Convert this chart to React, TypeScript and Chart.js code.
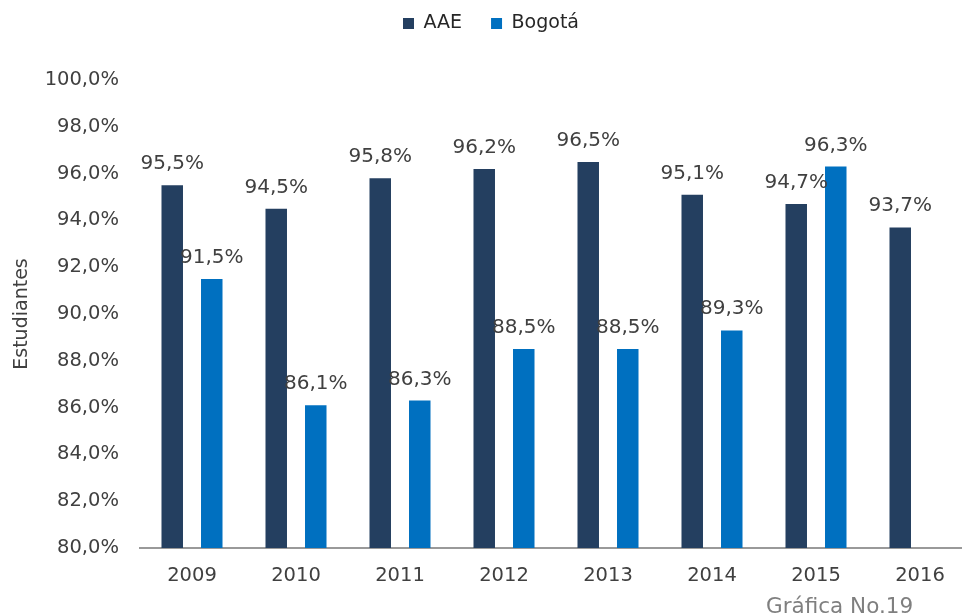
import React, { useEffect, useRef } from "react";
import { Chart, registerables } from "chart.js";

Chart.register(...registerables);

const years = ["2009", "2010", "2011", "2012", "2013", "2014", "2015", "2016"];
const aaeValues = [95.5, 94.5, 95.8, 96.2, 96.5, 95.1, 94.7, 93.7];
const bogotaValues: (number | null)[] = [91.5, 86.1, 86.3, 88.5, 88.5, 89.3, 96.3, null];
const seriesNames = ["AAE", "Bogotá"];
const yMin = 80;
const yMax = 100;
const yStep = 2;
const yTitle = "Estudiantes";
const caption = "Gráfica No.19";

const FONT = "'DejaVu Sans', Verdana, sans-serif";
const TEXT = "#404040";
const fmt = (v: number) => v.toFixed(1).replace(".", ",") + "%";

const labelsPlugin = {
  id: "valueLabels",
  afterDatasetsDraw(chart: any) {
    const ctx = chart.ctx;
    ctx.save();
    ctx.font = `20px ${FONT}`;
    ctx.fillStyle = TEXT;
    ctx.textAlign = "center";
    ctx.textBaseline = "alphabetic";
    chart.data.datasets.forEach((ds: any, i: number) => {
      const meta = chart.getDatasetMeta(i);
      meta.data.forEach((bar: any, j: number) => {
        const v = ds.data[j];
        if (v === null || v === undefined) return;
        ctx.fillText(fmt(v), bar.x, bar.y - 16);
      });
    });
    ctx.restore();
  },
};

const captionPlugin = {
  id: "caption",
  afterDraw(chart: any) {
    const ctx = chart.ctx;
    ctx.save();
    ctx.font = `21.5px ${FONT}`;
    ctx.fillStyle = "#7f7f7f";
    ctx.textAlign = "left";
    ctx.textBaseline = "alphabetic";
    ctx.fillText(caption, 766, 613);
    ctx.restore();
  },
};

export default function App() {
  const ref = useRef<HTMLCanvasElement | null>(null);

  useEffect(() => {
    if (!ref.current) return;
    const chart = new Chart(ref.current, {
      type: "bar",
      data: {
        labels: years,
        datasets: [
          {
            label: seriesNames[0],
            data: aaeValues,
            backgroundColor: "#243F60",
            categoryPercentage: 0.76,
            barPercentage: 0.544,
          },
          {
            label: seriesNames[1],
            data: bogotaValues,
            backgroundColor: "#0070C0",
            categoryPercentage: 0.76,
            barPercentage: 0.544,
          },
        ],
      },
      options: {
        responsive: false,
        animation: false,
        devicePixelRatio: 1,
        layout: { padding: { left: 10, right: 8, top: -15, bottom: 0 } },
        plugins: {
          legend: {
            position: "top",
            labels: {
              font: { family: FONT, size: 19 },
              color: "#262626",
              boxWidth: 11,
              boxHeight: 11,
              padding: 29,
            },
          },
          subtitle: {
            display: true,
            text: "",
            weight: 500,
            padding: { top: 0, bottom: 0 },
            font: { size: 1, lineHeight: "37px" },
          },
          tooltip: { enabled: false },
        },
        scales: {
          x: {
            grid: { display: false, drawTicks: false },
            border: { display: true, color: "#999999", width: 2 },
            ticks: { font: { family: FONT, size: 19.5 }, color: TEXT, padding: 16 },
            afterFit(scale: any) {
              scale.height = 66;
            },
          },
          y: {
            min: yMin,
            max: yMax,
            grid: { display: false, drawTicks: false },
            border: { display: false },
            ticks: {
              stepSize: yStep,
              font: { family: FONT, size: 19.5 },
              color: TEXT,
              padding: 21,
              callback: (v: any) => fmt(Number(v)),
            },
            title: {
              display: true,
              text: yTitle,
              font: { family: FONT, size: 19 },
              color: TEXT,
              padding: { top: 1, bottom: 0 },
            },
            afterFit(scale: any) {
              scale.width = 130;
            },
          },
        },
      },
      plugins: [labelsPlugin, captionPlugin],
    });
    return () => chart.destroy();
  }, []);

  return (
    <div
      style={{
        position: "fixed",
        left: 0,
        top: 0,
        width: 962,
        height: 614,
        overflow: "hidden",
        background: "#ffffff",
      }}
    >
      <canvas ref={ref} width={980} height={614} style={{ display: "block" }} />
    </div>
  );
}
